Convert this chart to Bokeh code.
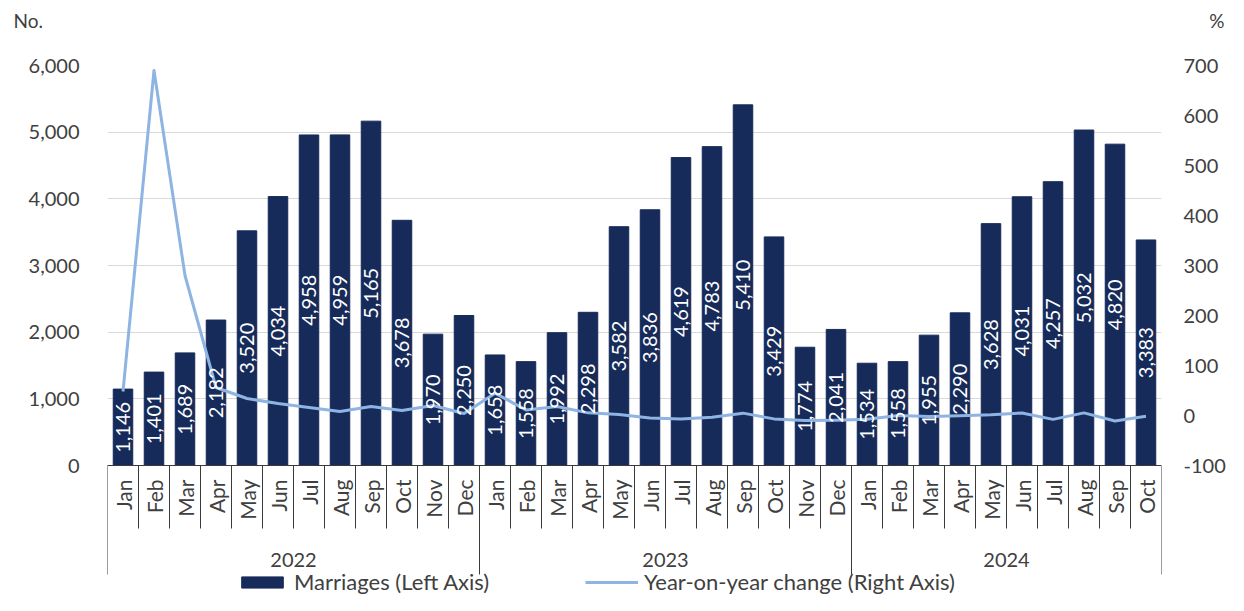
import math
from bokeh.plotting import figure
from bokeh.layouts import column
from bokeh.models import (ColumnDataSource, Range1d, LinearAxis, FixedTicker,
                          NumeralTickFormatter, Span, Legend, LegendItem)
from bokeh.core.properties import value
from bokeh.embed import file_html
from bokeh.resources import INLINE

# ---------------- data ----------------
months = ["Jan", "Feb", "Mar", "Apr", "May", "Jun", "Jul", "Aug", "Sep", "Oct", "Nov", "Dec",
          "Jan", "Feb", "Mar", "Apr", "May", "Jun", "Jul", "Aug", "Sep", "Oct", "Nov", "Dec",
          "Jan", "Feb", "Mar", "Apr", "May", "Jun", "Jul", "Aug", "Sep", "Oct"]
years = ["2022"] * 12 + ["2023"] * 12 + ["2024"] * 10
marriages = [1146, 1401, 1689, 2182, 3520, 4034, 4958, 4959, 5165, 3678, 1970, 2250,
             1658, 1558, 1992, 2298, 3582, 3836, 4619, 4783, 5410, 3429, 1774, 2041,
             1534, 1558, 1955, 2290, 3628, 4031, 4257, 5032, 4820, 3383]
yoy_change = [48, 690, 280, 56, 34, 24, 16, 8, 18, 10, 20, 4,
              44.7, 11.2, 17.9, 5.3, 1.8, -4.9, -6.8, -3.5, 4.7, -6.8, -9.9, -9.3,
              -7.5, 0.0, -1.9, -0.3, 1.3, 5.1, -7.8, 5.2, -10.9, -1.3]
left_ticks = [0, 1000, 2000, 3000, 4000, 5000, 6000]
right_ticks = [-100, 0, 100, 200, 300, 400, 500, 600, 700]
left_unit = "No."
right_unit = "%"
bar_name = "Marriages (Left Axis)"
line_name = "Year-on-year change (Right Axis)"

# ---------------- layout / style ----------------
W, H = 1228, 595
HDR = 32                           # header strip holding the unit labels
BORDER_L, BORDER_R, BORDER_T = 107, 60, 65 - HDR
H_MAIN = H - HDR
FRAME_H = H_MAIN - BORDER_T
PLOT_PX = 400                      # pixels between axis min and max tick
FONT_NAME = "Lato"
FONT = value(FONT_NAME)
TXT = "#404040"
AXIS_COL = "#3a3a3a"
BAR_COL = "#172B5A"
LINE_COL = "#8DB4E2"
GRID_COL = "#D9D9D9"

l_min, l_max = left_ticks[0], left_ticks[-1]
r_min, r_max = right_ticks[0], right_ticks[-1]
scale_l = (l_max - l_min) / PLOT_PX
scale_r = (r_max - r_min) / PLOT_PX
extra_px = FRAME_H - PLOT_PX
n = len(months)
x = list(range(n))

# ---------------- header with unit labels ----------------
hdr = figure(width=W, height=HDR, output_backend="svg", toolbar_location=None,
             x_range=Range1d(0, W), y_range=Range1d(HDR, 0),
             x_axis_location=None, y_axis_location=None,
             min_border_left=0, min_border_right=0, min_border_top=0, min_border_bottom=0)
hdr.frame_align = False
hdr.outline_line_color = None
hdr.grid.visible = False
hdr.text(x=[13], y=[8], text=[left_unit], text_align="left", text_baseline="top",
         text_font=FONT, text_font_size="19px", text_color=TXT)
hdr.text(x=[1224], y=[8], text=[right_unit], text_align="right", text_baseline="top",
         text_font=FONT, text_font_size="19px", text_color=TXT)

# ---------------- main chart ----------------
p = figure(width=W, height=H_MAIN, output_backend="svg", toolbar_location=None,
           x_range=Range1d(-0.5, n - 0.5),
           y_range=Range1d(l_min - extra_px * scale_l, l_max),
           x_axis_location=None, y_axis_location="left",
           min_border_left=BORDER_L, min_border_right=BORDER_R,
           min_border_top=BORDER_T, min_border_bottom=0)
p.frame_align = False
p.outline_line_color = None
p.background_fill_color = "white"
p.border_fill_color = "white"
p.extra_y_ranges = {"pct": Range1d(r_min - extra_px * scale_r, r_max)}

# left axis
ax = p.yaxis[0]
ax.ticker = FixedTicker(ticks=left_ticks)
ax.formatter = NumeralTickFormatter(format="0,0")
ax.axis_line_color = None
ax.major_tick_line_color = None
ax.minor_tick_line_color = None
ax.major_label_text_font = FONT_NAME
ax.major_label_text_font_size = "20px"
ax.major_label_text_color = TXT
ax.major_label_standoff = 22

# right axis
rax = LinearAxis(y_range_name="pct", ticker=FixedTicker(ticks=right_ticks),
                 formatter=NumeralTickFormatter(format="0"))
rax.axis_line_color = None
rax.major_tick_line_color = None
rax.minor_tick_line_color = None
rax.major_label_text_font = FONT_NAME
rax.major_label_text_font_size = "20px"
rax.major_label_text_color = TXT
rax.major_label_standoff = 16
p.add_layout(rax, "right")

# grid
p.xgrid.visible = False
p.ygrid.ticker = FixedTicker(ticks=left_ticks)
p.ygrid.bounds = (l_min - 10, l_max + 10)
p.ygrid.grid_line_color = GRID_COL
p.ygrid.grid_line_width = 1

src = ColumnDataSource(dict(
    x=x, month=months, year=years, marriages=marriages, yoy=yoy_change,
    label=[f"{v:,}" for v in marriages],
    label_y=[v / 2 for v in marriages],
))

bars = p.vbar(x="x", top="marriages", width=0.63, source=src,
              fill_color=BAR_COL, line_color=BAR_COL)
line = p.line(x="x", y="yoy", source=src, y_range_name="pct",
              line_color=LINE_COL, line_width=3, line_join="round")
p.text(x="x", y="label_y", text="label", source=src, angle=math.pi / 2,
       text_align="center", text_baseline="middle", text_color="white",
       text_font=FONT, text_font_size="20px")

# category axis (drawn below the zero line)
p.add_layout(Span(location=0, dimension="width", line_color=AXIS_COL, line_width=1))
bounds = [i - 0.5 for i in range(n + 1)]
year_bounds = [bounds[0]] + [i - 0.5 for i in range(1, n) if years[i] != years[i - 1]] + [bounds[-1]]
month_sep = [b for b in bounds if b not in year_bounds]
p.segment(x0=month_sep, y0=[0] * len(month_sep), x1=month_sep,
          y1=[-63 * scale_l] * len(month_sep), line_color=AXIS_COL, line_width=1)
p.segment(x0=year_bounds, y0=[0] * len(year_bounds), x1=year_bounds,
          y1=[-109 * scale_l] * len(year_bounds), line_color=AXIS_COL, line_width=1)
p.text(x="x", y=0, text="month", source=src, angle=math.pi / 2, y_offset=14,
       text_align="right", text_baseline="middle", text_color=TXT,
       text_font=FONT, text_font_size="21px")
uniq_years = list(dict.fromkeys(years))
year_x = [sum(i for i in x if years[i] == yv) / years.count(yv) for yv in uniq_years]
p.text(x=year_x, y=[0] * len(uniq_years), text=uniq_years, y_offset=94,
       text_align="center", text_baseline="middle", text_color=TXT,
       text_font=FONT, text_font_size="20px")

# legends
def mk_legend(item, loc, gw):
    lg = Legend(items=[item], location=loc, orientation="horizontal",
                border_line_color=None, background_fill_alpha=0,
                padding=0, margin=0, spacing=0, glyph_width=gw, glyph_height=14,
                label_standoff=6, label_text_font=FONT_NAME, label_text_font_size="22px",
                label_text_color=TXT, label_height=14)
    p.add_layout(lg)

mk_legend(LegendItem(label=bar_name, renderers=[bars]), (129, 0), 52)
mk_legend(LegendItem(label=line_name, renderers=[line]), (478, 0), 53)

layout = column(hdr, p, spacing=0)
open("out.html", "w").write(file_html(layout, INLINE))
